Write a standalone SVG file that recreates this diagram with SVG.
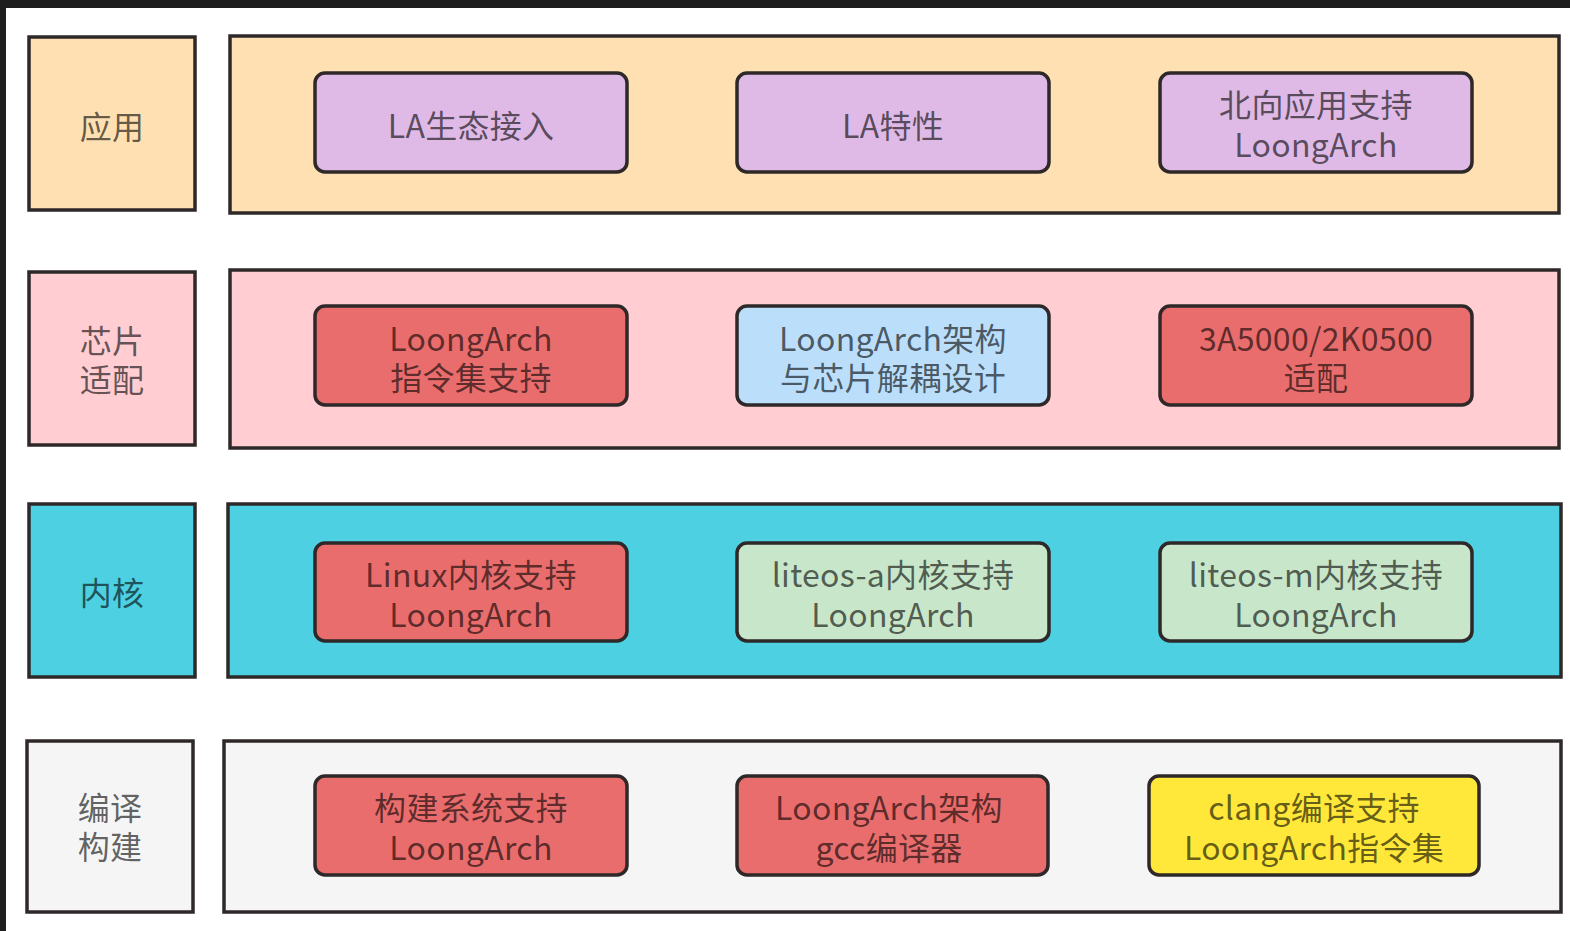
<svg xmlns="http://www.w3.org/2000/svg" width="1570" height="931" viewBox="0 0 1570 931">
<style>
.box{stroke:#2e2828;stroke-width:3.5}
.in{stroke:#2e2828;stroke-width:3.5}
text{font-family:"Noto Sans CJK SC","Microsoft YaHei","Noto Sans",sans-serif;font-size:32px;letter-spacing:0.3px;fill:#000;fill-opacity:0.62;text-anchor:middle;dominant-baseline:central}
.or{fill:#FFE0B2}.pu{fill:#DFBAE6}.pk{fill:#FFCDD2}.rd{fill:#EA6D6D}.lb{fill:#BBDEFB}.cy{fill:#4DD0E1}.gr{fill:#C8E6C9}.gy{fill:#F5F5F5}.ye{fill:#FFE83A}
</style>
<rect x="0" y="0" width="1570" height="931" fill="#ffffff"/>
<rect x="0" y="0" width="1570" height="8" fill="#1e1e1e"/>
<rect x="0" y="0" width="6" height="931" fill="#1e1e1e"/>
<g id="connectors"></g>
<!-- Row 1 -->
<g id="row1-label"><rect class="box or" x="29" y="37" width="166" height="173"/><text x="112" y="125">应用</text></g>
<g id="row1-layer"><rect class="box or" x="230" y="36" width="1329" height="177"/></g>
<g id="n-la-eco"><rect class="in pu" x="315" y="73" width="312" height="99" rx="10"/><text x="471" y="124">LA生态接入</text></g>
<g id="n-la-feat"><rect class="in pu" x="737" y="73" width="312" height="99" rx="10"/><text x="893" y="124">LA特性</text></g>
<g id="n-north"><rect class="in pu" x="1160" y="73" width="312" height="99" rx="10"/><text x="1316" y="103">北向应用支持</text><text x="1316" y="143">LoongArch</text></g>
<!-- Row 2 -->
<g id="row2-label"><rect class="box pk" x="29" y="272" width="166" height="173"/><text x="112" y="339">芯片</text><text x="112" y="378">适配</text></g>
<g id="row2-layer"><rect class="box pk" x="230" y="270" width="1329" height="178"/></g>
<g id="n-isa"><rect class="in rd" x="315" y="306" width="312" height="99" rx="10"/><text x="471" y="337">LoongArch</text><text x="471" y="376">指令集支持</text></g>
<g id="n-decouple"><rect class="in lb" x="737" y="306" width="312" height="99" rx="10"/><text x="893" y="337">LoongArch架构</text><text x="893" y="376">与芯片解耦设计</text></g>
<g id="n-chip"><rect class="in rd" x="1160" y="306" width="312" height="99" rx="10"/><text x="1316" y="337">3A5000/2K0500</text><text x="1316" y="376">适配</text></g>
<!-- Row 3 -->
<g id="row3-label"><rect class="box cy" x="29" y="504" width="166" height="173"/><text x="112" y="591">内核</text></g>
<g id="row3-layer"><rect class="box cy" x="228" y="504" width="1333" height="173"/></g>
<g id="n-linux"><rect class="in rd" x="315" y="543" width="312" height="98" rx="10"/><text x="471" y="573">Linux内核支持</text><text x="471" y="613">LoongArch</text></g>
<g id="n-liteos-a"><rect class="in gr" x="737" y="543" width="312" height="98" rx="10"/><text x="893" y="573">liteos-a内核支持</text><text x="893" y="613">LoongArch</text></g>
<g id="n-liteos-m"><rect class="in gr" x="1160" y="543" width="312" height="98" rx="10"/><text x="1316" y="573">liteos-m内核支持</text><text x="1316" y="613">LoongArch</text></g>
<!-- Row 4 -->
<g id="row4-label"><rect class="box gy" x="27" y="741" width="166" height="171"/><text x="110" y="806">编译</text><text x="110" y="845">构建</text></g>
<g id="row4-layer"><rect class="box gy" x="224" y="741" width="1337" height="171"/></g>
<g id="n-build"><rect class="in rd" x="315" y="776" width="312" height="99" rx="10"/><text x="471" y="806">构建系统支持</text><text x="471" y="846">LoongArch</text></g>
<g id="n-gcc"><rect class="in rd" x="737" y="776" width="311" height="99" rx="10"/><text x="889" y="806">LoongArch架构</text><text x="889" y="846">gcc编译器</text></g>
<g id="n-clang"><rect class="in ye" x="1149" y="776" width="330" height="99" rx="10"/><text x="1314" y="806">clang编译支持</text><text x="1314" y="846">LoongArch指令集</text></g>
</svg>
